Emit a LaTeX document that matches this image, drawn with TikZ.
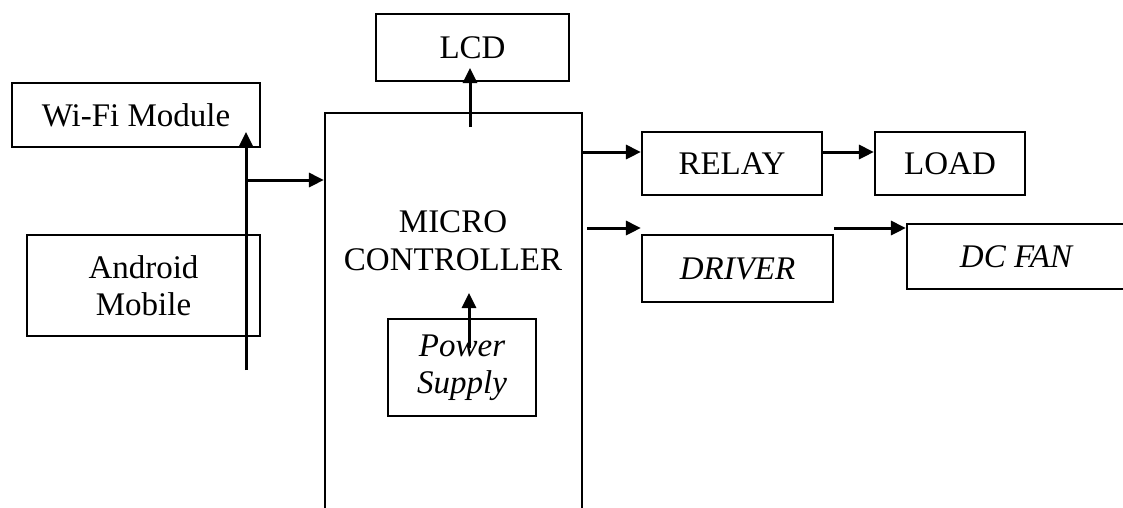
\documentclass[tikz,border=0pt]{standalone}
\usepackage{fontspec}
\setmainfont{Liberation Serif}
\usetikzlibrary{arrows.meta}

\tikzset{
  blk/.style={draw,line width=2.2pt,inner sep=0pt,align=center,
    font=\fontsize{33}{37}\selectfont},
  conn/.style={line width=3pt},
}

\begin{document}
\begin{tikzpicture}[x=1pt,y=-1pt,>={Triangle[length=15pt,width=14pt]}]
\useasboundingbox (0,0) rectangle (1123,507);
\clip (0,0) rectangle (1123,507);
% blocks
\node[blk,minimum width=248pt,minimum height=64pt] (wifi) at (136,115) {Wi-Fi Module};
\node[blk,minimum width=233pt,minimum height=101pt] (android) at (143.5,285.5) {Android\\Mobile};
\node[blk,minimum width=193pt,minimum height=67pt] (lcd) at (472.5,47.5) {LCD};
\node[blk,minimum width=257pt,minimum height=447pt] (mcu) at (453.5,336.5) {};
\node[font=\fontsize{33}{38}\selectfont,align=center] (mcutext) at (453,241) {MICRO\\CONTROLLER};
\node[blk,minimum width=148pt,minimum height=97pt,font=\fontsize{33}{37}\selectfont\itshape] (power) at (462,367.5) {Power\\Supply};
\node[blk,minimum width=180pt,minimum height=63pt] (relay) at (732,163.5) {RELAY};
\node[blk,minimum width=150pt,minimum height=63pt] (load) at (950,163.5) {LOAD};
\node[blk,minimum width=191pt,minimum height=67pt,font=\fontsize{33}{37}\selectfont\itshape] (driver) at (737.5,268.5) {DRIVER};
\node[blk,minimum width=218pt,minimum height=65pt,font=\fontsize{33}{37}\selectfont\itshape] (fan) at (1016,256.5) {DC FAN};

% connector ends
\coordinate (abot) at (246,370);
\coordinate (wtip) at (246,132);
\coordinate (split) at (246,180);
\coordinate (ltail) at (470,127);
\coordinate (ltip) at (470,68);
\coordinate (ptail) at (469,348);
\coordinate (ptip) at (469,293);
\coordinate (dtail) at (587,228);

% connectors
\draw[conn,->] (abot) -- (wtip);
\draw[conn,->] (split) -- (split -| mcu.west);
\draw[conn,->] (ltail) -- (ltip);
\draw[conn,->] (ptail) -- (ptip);
\draw[conn,->] (mcu.east |- 0,152) -- (relay.west |- 0,152);
\draw[conn,->] (relay.east |- 0,152) -- (load.west |- 0,152);
\draw[conn,->] (dtail) -- (dtail -| driver.west);
\draw[conn,->] (driver.east |- dtail) -- (fan.west |- dtail);
\end{tikzpicture}
\end{document}
